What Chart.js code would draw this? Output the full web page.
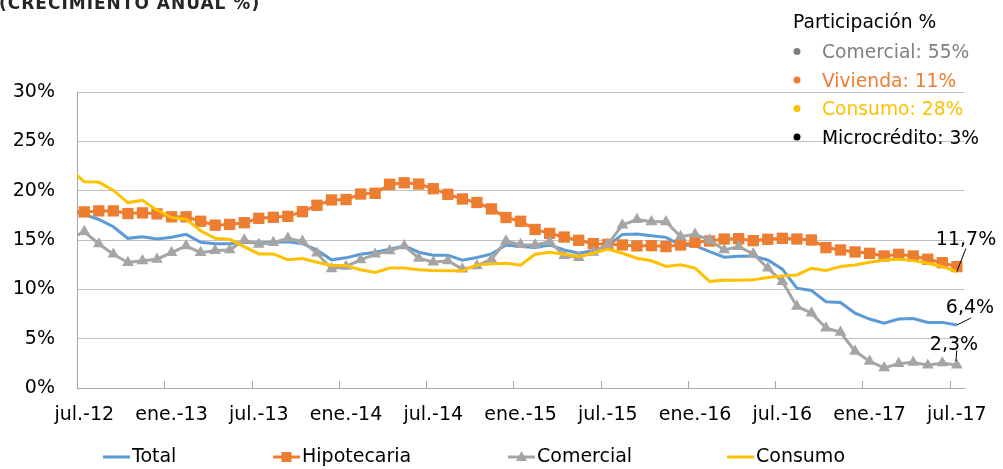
<!DOCTYPE html>
<html>
<head>
<meta charset="utf-8">
<script src="https://cdn.jsdelivr.net/npm/chart.js@4.4.1/dist/chart.umd.min.js"></script>
<style>
html,body{margin:0;padding:0;background:#fff;}
#wrap{width:1003px;height:469px;position:relative;}
</style>
</head>
<body>
<div id="wrap"><canvas id="c" width="1003" height="469"></canvas></div>
<script>
// ---------- DATA ----------
const months = [
  'jun.-12','jul.-12','ago.-12','sep.-12','oct.-12','nov.-12','dic.-12',
  'ene.-13','feb.-13','mar.-13','abr.-13','may.-13','jun.-13','jul.-13','ago.-13','sep.-13','oct.-13','nov.-13','dic.-13',
  'ene.-14','feb.-14','mar.-14','abr.-14','may.-14','jun.-14','jul.-14','ago.-14','sep.-14','oct.-14','nov.-14','dic.-14',
  'ene.-15','feb.-15','mar.-15','abr.-15','may.-15','jun.-15','jul.-15','ago.-15','sep.-15','oct.-15','nov.-15','dic.-15',
  'ene.-16','feb.-16','mar.-16','abr.-16','may.-16','jun.-16','jul.-16','ago.-16','sep.-16','oct.-16','nov.-16','dic.-16',
  'ene.-17','feb.-17','mar.-17','abr.-17','may.-17','jun.-17','jul.-17'
];
const firstShown = 'jul.-12';

const total = [18.0,
  17.6,17.08,16.34,15.17,15.34,15.1,15.27,15.57,14.77,14.63,14.63,14.77,14.7,14.77,14.83,
  14.63,13.99,12.99,13.19,13.56,13.76,14.06,14.4,13.76,13.46,13.46,12.95,13.22,13.59,14.5,
  14.33,14.23,14.5,13.99,13.66,13.9,14.4,15.57,15.6,15.44,15.27,14.5,14.43,13.83,13.26,
  13.35,13.38,12.98,12.04,10.12,9.88,8.74,8.67,7.59,6.99,6.58,6.99,7.05,6.65,6.65,6.38];

const hipotecaria = [17.9,
  17.85,17.95,17.95,17.68,17.75,17.65,17.35,17.35,16.9,16.5,16.58,16.75,17.2,17.3,17.4,
  17.87,18.52,19.06,19.1,19.66,19.73,20.64,20.8,20.67,20.2,19.63,19.16,18.8,18.15,17.28,
  16.9,16.07,15.67,15.3,14.97,14.63,14.56,14.5,14.4,14.43,14.33,14.5,14.77,14.9,15.1,
  15.13,14.93,15.07,15.17,15.1,15.0,14.23,13.99,13.79,13.65,13.38,13.55,13.38,13.05,12.7,12.3];

const comercial = [15.1,
  15.85,14.6,13.56,12.72,12.89,13.05,13.72,14.4,13.72,13.93,13.99,15.0,14.56,14.73,15.17,
  14.87,13.66,12.08,12.32,12.99,13.56,13.9,14.4,13.15,12.75,12.89,12.05,12.38,13.05,14.9,
  14.53,14.5,14.83,13.42,13.22,13.76,14.56,16.51,17.08,16.85,16.85,15.34,15.57,15.0,13.99,
  14.33,13.59,12.14,10.79,8.27,7.59,6.08,5.64,3.72,2.71,2.04,2.47,2.61,2.31,2.54,2.31];

const consumo = [22.2,
  20.9,20.87,20.03,18.79,19.03,18.02,17.28,17.11,15.94,15.17,15.07,14.33,13.59,13.59,12.99,
  13.12,12.75,12.42,12.42,11.98,11.71,12.15,12.15,11.98,11.91,11.88,11.88,12.48,12.58,12.65,
  12.45,13.56,13.76,13.56,13.32,13.66,14.09,13.66,13.15,12.89,12.32,12.48,12.15,10.81,10.91,
  10.93,10.96,11.2,11.36,11.46,12.14,11.9,12.31,12.47,12.74,12.98,13.05,12.91,12.64,12.31,11.8];

const seriesNames = ['Total','Hipotecaria','Comercial','Consumo'];
const yMin = 0, yMax = 30, yStep = 5;
const tickEvery = 6;

const titleText = '(CRECIMIENTO ANUAL %)';
const shareTitle = 'Participación %';
const shareLabels = ['Comercial: 55%','Vivienda: 11%','Consumo: 28%','Microcrédito: 3%'];
const endLabels = ['11,7%','6,4%','2,3%'];   // Consumo, Total, Comercial

// ---------- STYLE ----------
const FONT = '"DejaVu Sans", sans-serif';
const C_BLUE = '#5B9BD5', C_ORANGE = '#ED7D31', C_GRAY = '#A5A5A5', C_YELLOW = '#FFC000';
const shareColors = ['#808080', C_ORANGE, C_YELLOW, '#000000'];
const AXIS = '#a6a6a6', GRID = '#c0c0c0';

Chart.defaults.font.family = FONT;
Chart.defaults.color = '#000';

const firstIdx = months.indexOf(firstShown);
const hideFirst = (r) => (ctx) => ctx.dataIndex < firstIdx ? 0 : r;

const overlay = {
  id: 'overlay',
  afterDraw(chart) {
    const ctx = chart.ctx;
    const xs = chart.scales.x;
    const ca = chart.chartArea;
    ctx.save();

    // x-axis tick marks (upward, between categories)
    ctx.strokeStyle = AXIS; ctx.lineWidth = 1;
    for (let i = firstIdx; i < months.length; i += tickEvery) {
      const bx = Math.round((xs.getPixelForValue(i) + xs.getPixelForValue(i - 1)) / 2) + 0.5;
      ctx.beginPath(); ctx.moveTo(bx, ca.bottom); ctx.lineTo(bx, ca.bottom - 7); ctx.stroke();
    }

    // cut-off title
    ctx.fillStyle = '#262626';
    ctx.font = 'bold 17px ' + FONT;
    ctx.letterSpacing = '1px';
    ctx.textAlign = 'left'; ctx.textBaseline = 'alphabetic';
    ctx.fillText(titleText, -1, 9);
    ctx.letterSpacing = '0px';

    // share panel
    ctx.font = '18.7px ' + FONT;
    ctx.fillStyle = '#000';
    ctx.fillText(shareTitle, 793, 28);
    shareLabels.forEach((t, k) => {
      const base = 58 + k * 28.5;
      ctx.fillStyle = shareColors[k];
      ctx.beginPath(); ctx.arc(797, base - 6.5, 3.5, 0, Math.PI * 2); ctx.fill();
      ctx.fillText(t, 822, base);
    });

    // end-value annotations
    const last = months.length - 1;
    const P = (di) => chart.getDatasetMeta(di).data[last];
    ctx.strokeStyle = '#000'; ctx.lineWidth = 1; ctx.fillStyle = '#000';
    ctx.font = '19px ' + FONT;
    const ann = [
      {d: 3, txt: endLabels[0], l: [0, 0, 9, -23], t: [-21, -27]},
      {d: 0, txt: endLabels[1], l: [0, 0, 14, -7], t: [-11, -12]},
      {d: 2, txt: endLabels[2], l: [-1, -4, 0, -15], t: [-27, -15.5]},
    ];
    ann.forEach(a => {
      const p = P(a.d);
      ctx.beginPath(); ctx.moveTo(p.x + a.l[0], p.y + a.l[1]); ctx.lineTo(p.x + a.l[2], p.y + a.l[3]); ctx.stroke();
      ctx.fillText(a.txt, p.x + a.t[0], p.y + a.t[1]);
    });

    // bottom legend
    const ly = 457;
    const items = [
      {x: 103, c: C_BLUE, m: null},
      {x: 273, c: C_ORANGE, m: 'rect'},
      {x: 508, c: C_GRAY, m: 'triangle'},
      {x: 727, c: C_YELLOW, m: null},
    ];
    ctx.textBaseline = 'middle';
    items.forEach((it, k) => {
      ctx.strokeStyle = it.c; ctx.lineWidth = 3;
      ctx.beginPath(); ctx.moveTo(it.x, ly); ctx.lineTo(it.x + 27, ly); ctx.stroke();
      const cx = it.x + 13.5;
      ctx.fillStyle = it.c;
      if (it.m === 'rect') ctx.fillRect(cx - 5, ly - 5, 10, 10);
      if (it.m === 'triangle') {
        ctx.beginPath(); ctx.moveTo(cx, ly - 6); ctx.lineTo(cx + 5.5, ly + 4); ctx.lineTo(cx - 5.5, ly + 4); ctx.closePath(); ctx.fill();
      }
      ctx.fillStyle = '#000';
      ctx.fillText(seriesNames[k], it.x + 29, ly);
    });
    ctx.restore();
  }
};

new Chart(document.getElementById('c'), {
  type: 'line',
  data: {
    labels: months,
    datasets: [
      {label: seriesNames[0], data: total, borderColor: C_BLUE, backgroundColor: C_BLUE, borderWidth: 3,
       pointRadius: 0, order: 4},
      {label: seriesNames[1], data: hipotecaria, borderColor: C_ORANGE, backgroundColor: C_ORANGE, borderWidth: 3,
       pointStyle: 'rect', pointRadius: hideFirst(8), pointBorderWidth: 0, order: 3},
      {label: seriesNames[2], data: comercial, borderColor: C_GRAY, backgroundColor: C_GRAY, borderWidth: 3,
       pointStyle: 'triangle', pointRadius: hideFirst(6.8), pointBorderWidth: 0, order: 2},
      {label: seriesNames[3], data: consumo, borderColor: C_YELLOW, backgroundColor: C_YELLOW, borderWidth: 3,
       pointRadius: 0, order: 1},
    ].map(d => Object.assign(d, {tension: 0, fill: false, clip: {left: 0, top: 8, right: 8, bottom: 8}}))
  },
  options: {
    responsive: false,
    animation: false,
    events: [],
    devicePixelRatio: 1,
    layout: {padding: {top: 92, right: 38, bottom: 0, left: 0}},
    plugins: {legend: {display: false}, tooltip: {enabled: false}, title: {display: false}},
    scales: {
      x: {
        type: 'category',
        min: firstShown,
        offset: true,
        grid: {display: false, drawTicks: false},
        border: {display: true, color: AXIS, width: 1},
        ticks: {
          autoSkip: false, maxRotation: 0, minRotation: 0, padding: 16,
          font: {size: 19, family: FONT}, color: '#000',
          callback: (v) => ((v - firstIdx) % tickEvery === 0 ? months[v] : '')
        },
        afterFit: (s) => { s.height = 81; }
      },
      y: {
        min: yMin, max: yMax,
        ticks: {stepSize: yStep, padding: 22, font: {size: 19, family: FONT}, color: '#000',
                callback: (v) => v + '%'},
        grid: {color: GRID, lineWidth: 1, drawTicks: false},
        border: {display: true, color: AXIS, width: 1},
        afterFit: (s) => { s.width = 77; }
      }
    }
  },
  plugins: [overlay]
});
</script>
</body>
</html>
